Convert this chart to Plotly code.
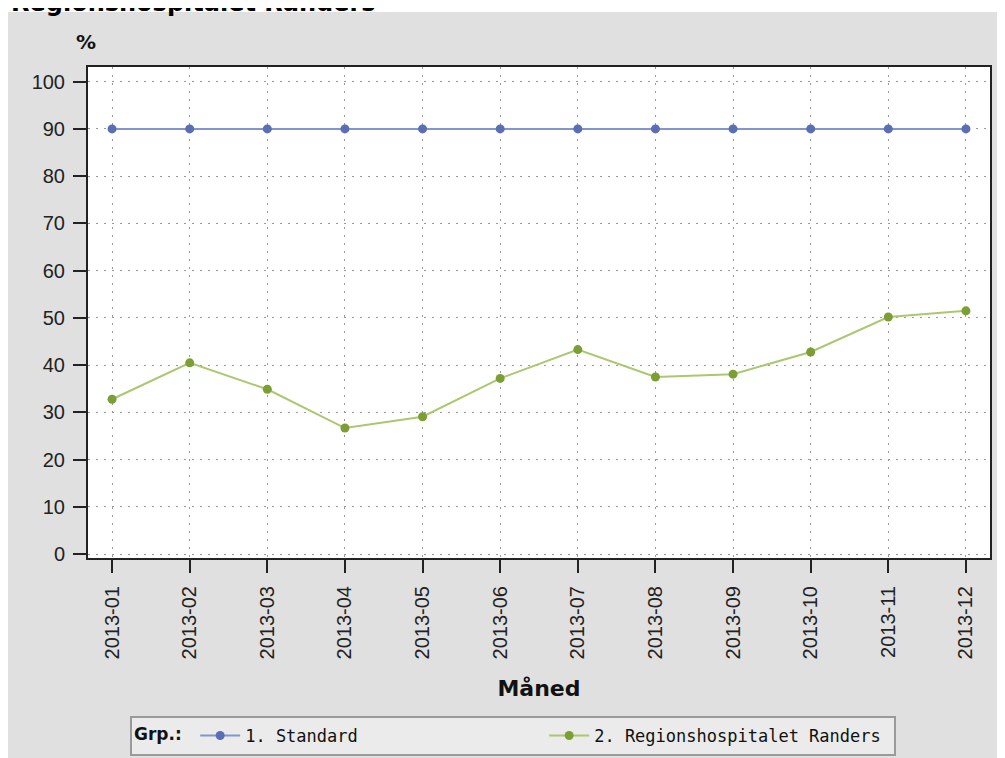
import plotly.graph_objects as go

months = ["2013-01", "2013-02", "2013-03", "2013-04", "2013-05", "2013-06",
          "2013-07", "2013-08", "2013-09", "2013-10", "2013-11", "2013-12"]
standard = [90, 90, 90, 90, 90, 90, 90, 90, 90, 90, 90, 90]
randers = [32.8, 40.5, 34.9, 26.7, 29.1, 37.2, 43.3, 37.5, 38.1, 42.8, 50.2, 51.5]
y_ticks = [0, 10, 20, 30, 40, 50, 60, 70, 80, 90, 100]

# The page has an 8px body margin, so the figure starts at page (8, 8).
OFF = 8
W, H = 1005 - OFF, 758 - OFF
L, R, T, B = 80, 15, 59, 200
PW, PH = W - L - R, H - T - B


def px(x_page):
    return (x_page - OFF - L) / PW


def py(y_page):
    return (H - B - (y_page - OFF)) / PH


fig = go.Figure()
fig.add_trace(go.Scatter(
    x=months, y=standard, mode="lines+markers", name="1. Standard",
    line=dict(color="#8495CE", width=2),
    marker=dict(color="#5A6EB4", size=9, symbol="circle"),
))
fig.add_trace(go.Scatter(
    x=months, y=randers, mode="lines+markers", name="2. Regionshospitalet Randers",
    line=dict(color="#AAC870", width=2),
    marker=dict(color="#7B9F34", size=9, symbol="circle"),
))

axis_font = dict(family="Liberation Sans, Arial, sans-serif", size=20, color="#222222")

fig.update_layout(
    width=W, height=H,
    margin=dict(l=L, r=R, t=T, b=B, pad=0, autoexpand=False),
    paper_bgcolor="#E0E0E0",
    plot_bgcolor="#FFFFFF",
    showlegend=True,
    legend=dict(
        orientation="h",
        x=px(130), xanchor="left",
        y=py(716), yanchor="top",
        bgcolor="#EBEBEB", bordercolor="#9A9A9A", borderwidth=2,
        font=dict(family="DejaVu Sans Mono, monospace", size=17, color="#111111"),
        title=dict(text="<b>Grp.:</b> ", side="left",
                   font=dict(family="DejaVu Sans, Verdana, sans-serif", size=17, color="#111111")),
        entrywidth=294, entrywidthmode="pixels",
        itemwidth=40,
    ),
    xaxis=dict(
        type="category",
        categoryorder="array", categoryarray=months,
        range=[-0.31, 11.31],
        showgrid=True, gridcolor="#9A9A9A", gridwidth=1, griddash="2px,6px",
        showline=True, linecolor="#222222", linewidth=2, mirror=True,
        ticks="outside", ticklen=13, tickwidth=2, tickcolor="#222222",
        tickangle=-90, tickfont=axis_font, ticklabelstandoff=5,
        title=dict(text="<b>Måned</b>",
                   font=dict(family="DejaVu Sans, Verdana, sans-serif", size=22, color="#111111"),
                   standoff=22),
        zeroline=False,
    ),
    yaxis=dict(
        range=[-0.8, 103.1],
        tickvals=y_ticks,
        showgrid=True, gridcolor="#9A9A9A", gridwidth=1, griddash="2px,6px",
        showline=True, linecolor="#222222", linewidth=2, mirror=True,
        ticks="outside", ticklen=13, tickwidth=2, tickcolor="#222222",
        tickfont=axis_font, ticklabelstandoff=4,
        zeroline=False,
    ),
    shapes=[
        dict(type="rect", xref="paper", yref="paper", layer="below",
             x0=px(-20), x1=px(1030), y0=py(12), y1=py(-20),
             fillcolor="#FFFFFF", line=dict(width=0)),
    ],
    annotations=[
        dict(text="<b>Regionshospitalet Randers</b>", xref="paper", yref="paper",
             x=px(9), xanchor="left", y=py(3.5), yanchor="middle",
             showarrow=False,
             font=dict(family="DejaVu Sans, Verdana, sans-serif", size=24, color="#000000")),
        dict(text="<b>%</b>", xref="paper", yref="paper",
             x=px(86), xanchor="center", y=py(42), yanchor="middle",
             showarrow=False,
             font=dict(family="DejaVu Sans, Verdana, sans-serif", size=20, color="#111111")),
    ],
)

fig.write_html("out.html")
